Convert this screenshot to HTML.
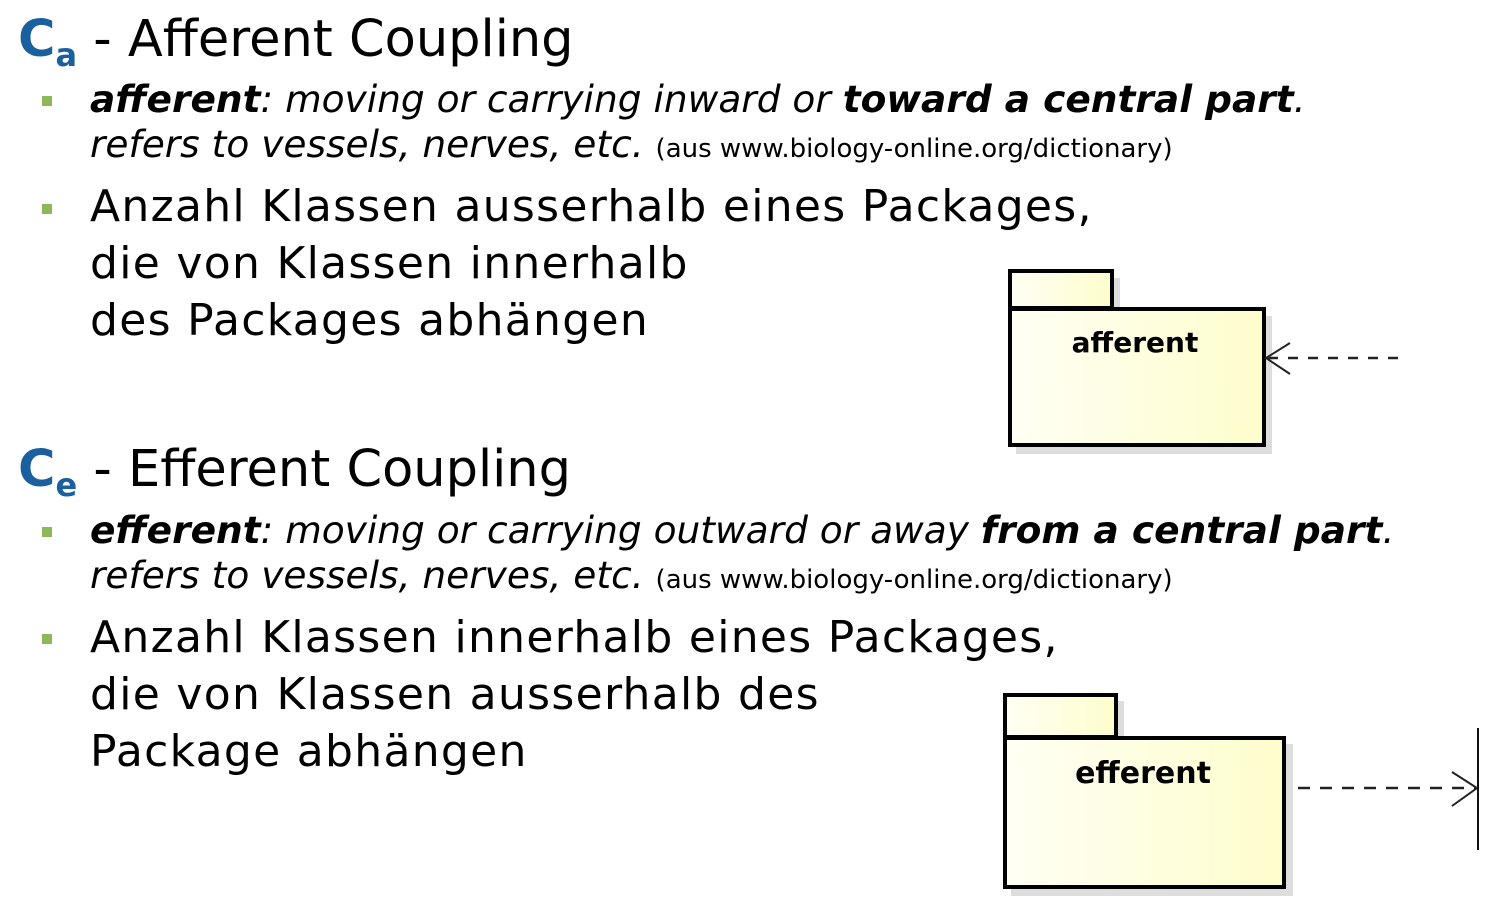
<!DOCTYPE html><html><head><style>
body{margin:0;width:1510px;height:905px;background:#fff;position:relative;overflow:hidden;font-family:"DejaVu Sans","Liberation Sans",sans-serif;color:#000}
.a{position:absolute;white-space:nowrap}
.t{font-size:51px;line-height:1}
.c{color:#1a5f9e;font-weight:bold}
.b{font-size:44px;line-height:57px;letter-spacing:1.3px}
.i{font-style:italic;font-size:37.5px;line-height:45px}
.s{font-style:normal;font-size:26px}
.sq{position:absolute;width:10px;height:10px;background:#8db85a}
</style></head><body>
<div class="a t" style="left:18px;top:14px"><span class="c">C<sub style="font-size:32px;vertical-align:-10px">a</sub></span>&nbsp;- Afferent Coupling</div>
<div class="sq" style="left:42px;top:96px"></div>
<div class="a i" style="left:90px;top:77px"><b>afferent</b>: moving or carrying inward or <b>toward a central part</b>.<br>refers to vessels, nerves, etc. <span class="s">(aus www.biology-online.org/dictionary)</span></div>
<div class="sq" style="left:42px;top:204px"></div>
<div class="a b" style="left:90px;top:178px">Anzahl Klassen ausserhalb eines Packages,<br>die von Klassen innerhalb<br>des Packages abhängen</div>

<div class="a t" style="left:18px;top:444px"><span class="c">C<sub style="font-size:32px;vertical-align:-10px">e</sub></span>&nbsp;- Efferent Coupling</div>
<div class="sq" style="left:42px;top:527px"></div>
<div class="a i" style="left:90px;top:508px"><b>efferent</b>: moving or carrying outward or away <b>from a central part</b>.<br>refers to vessels, nerves, etc. <span class="s">(aus www.biology-online.org/dictionary)</span></div>
<div class="sq" style="left:42px;top:634px"></div>
<div class="a b" style="left:90px;top:609px">Anzahl Klassen innerhalb eines Packages,<br>die von Klassen ausserhalb des<br>Package abhängen</div>

<svg class="a" style="left:0;top:0" width="1510" height="905">
<defs><linearGradient id="g" x1="0" x2="1"><stop offset="0" stop-color="#fffff4"/><stop offset="1" stop-color="#fdfdcc"/></linearGradient></defs>
<rect x="1016" y="278" width="104" height="37" fill="#ddd"/>
<rect x="1016" y="316" width="256" height="138" fill="#ddd"/>
<rect x="1010" y="271" width="102" height="37" fill="url(#g)" stroke="#000" stroke-width="4"/>
<rect x="1010" y="309" width="254" height="136" fill="url(#g)" stroke="#000" stroke-width="4"/>
<text x="1135" y="352" text-anchor="middle" font-family="DejaVu Sans" font-weight="bold" font-size="28">afferent</text>
<line x1="1268" y1="358" x2="1405" y2="358" stroke="#222" stroke-width="2.5" stroke-dasharray="10,10"/>
<path d="M1290,343 L1266,358 L1290,374" fill="none" stroke="#222" stroke-width="2"/>
<rect x="1011" y="701" width="113" height="42" fill="#ddd"/>
<rect x="1011" y="744" width="282" height="152" fill="#ddd"/>
<rect x="1005" y="695" width="111" height="42" fill="url(#g)" stroke="#000" stroke-width="4"/>
<rect x="1005" y="738" width="279" height="149" fill="url(#g)" stroke="#000" stroke-width="4"/>
<text x="1143" y="783" text-anchor="middle" font-family="DejaVu Sans" font-weight="bold" font-size="30">efferent</text>
<line x1="1298" y1="788" x2="1476" y2="788" stroke="#222" stroke-width="2.5" stroke-dasharray="12,10"/>
<path d="M1452,772 L1477,788 L1452,806" fill="none" stroke="#222" stroke-width="2"/>
<line x1="1478" y1="728" x2="1478" y2="850" stroke="#111" stroke-width="2"/>
</svg>
</body></html>
